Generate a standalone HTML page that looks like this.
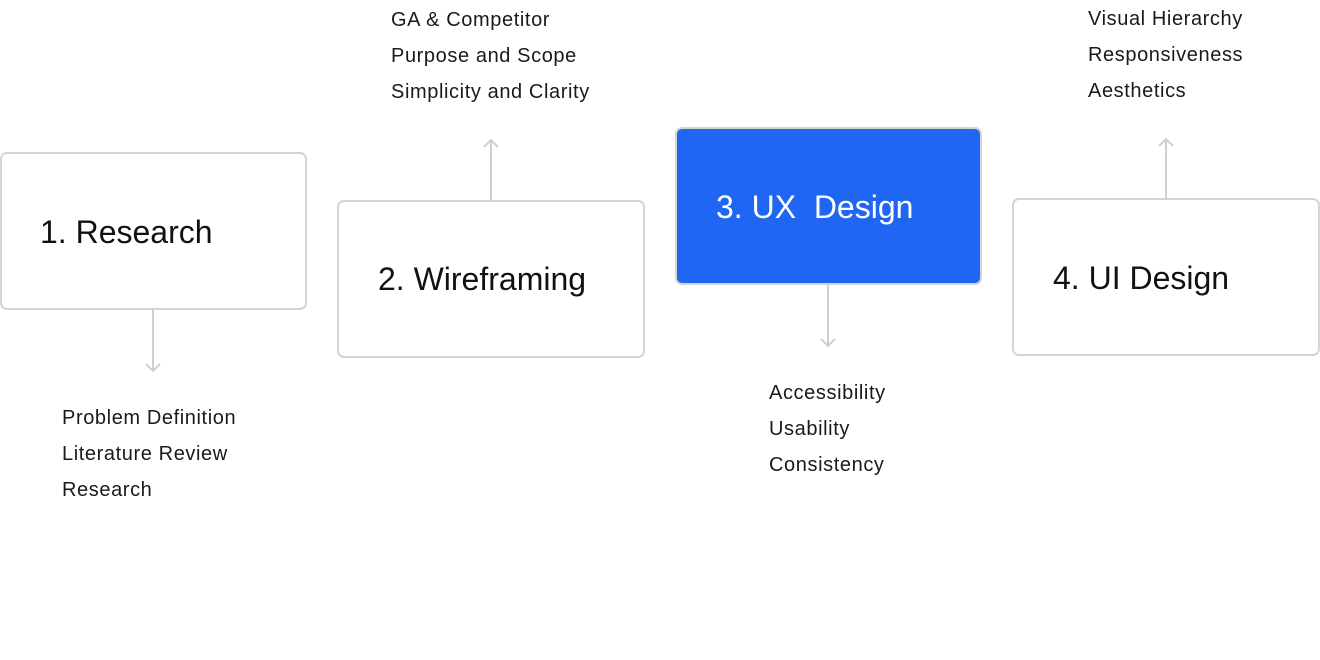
<!DOCTYPE html>
<html><head><style>
body{margin:0;width:1320px;height:660px;background:#fff;position:relative;overflow:hidden;font-family:"Liberation Sans",sans-serif;}
.b{position:absolute;box-sizing:border-box;border:2px solid #d4d4d4;border-radius:7px;background:#fff;}
.t{position:absolute;font-size:32px;color:#111;white-space:nowrap;line-height:1;}
.l{position:absolute;font-size:20px;color:#1a1a1a;line-height:36px;white-space:nowrap;letter-spacing:0.6px;}
</style></head><body>
<div class="b" style="left:0;top:152px;width:307px;height:158px"></div>
<div class="t" style="left:40px;top:216px">1. Research</div>
<div class="b" style="left:337px;top:200px;width:308px;height:158px"></div>
<div class="t" style="left:378px;top:263px">2. Wireframing</div>
<div class="b" style="left:675px;top:127px;width:307px;height:158px;background:#1f66f3;border-color:#d4d4d4"></div>
<div class="t" style="left:716px;top:191px;color:#fff">3. UX&nbsp; Design</div>
<div class="b" style="left:1012px;top:198px;width:308px;height:158px"></div>
<div class="t" style="left:1053px;top:262px">4. UI Design</div>
<svg width="1320" height="660" style="position:absolute;left:0;top:0" fill="none" stroke="#cfcfcf" stroke-width="2">
<path d="M153 310V371M146 364L153 371L160 364"/>
<path d="M491 200V140M484 147L491 140L498 147"/>
<path d="M828 285V346M821 339L828 346L835 339"/>
<path d="M1166 198V139M1159 146L1166 139L1173 146"/>
</svg>
<div class="l" style="left:62px;top:400px">Problem Definition<br>Literature Review<br>Research</div>
<div class="l" style="left:391px;top:2px">GA &amp; Competitor<br>Purpose and Scope<br>Simplicity and Clarity</div>
<div class="l" style="left:769px;top:375px">Accessibility<br>Usability<br>Consistency</div>
<div class="l" style="left:1088px;top:1px">Visual Hierarchy<br>Responsiveness<br>Aesthetics</div>
</body></html>
